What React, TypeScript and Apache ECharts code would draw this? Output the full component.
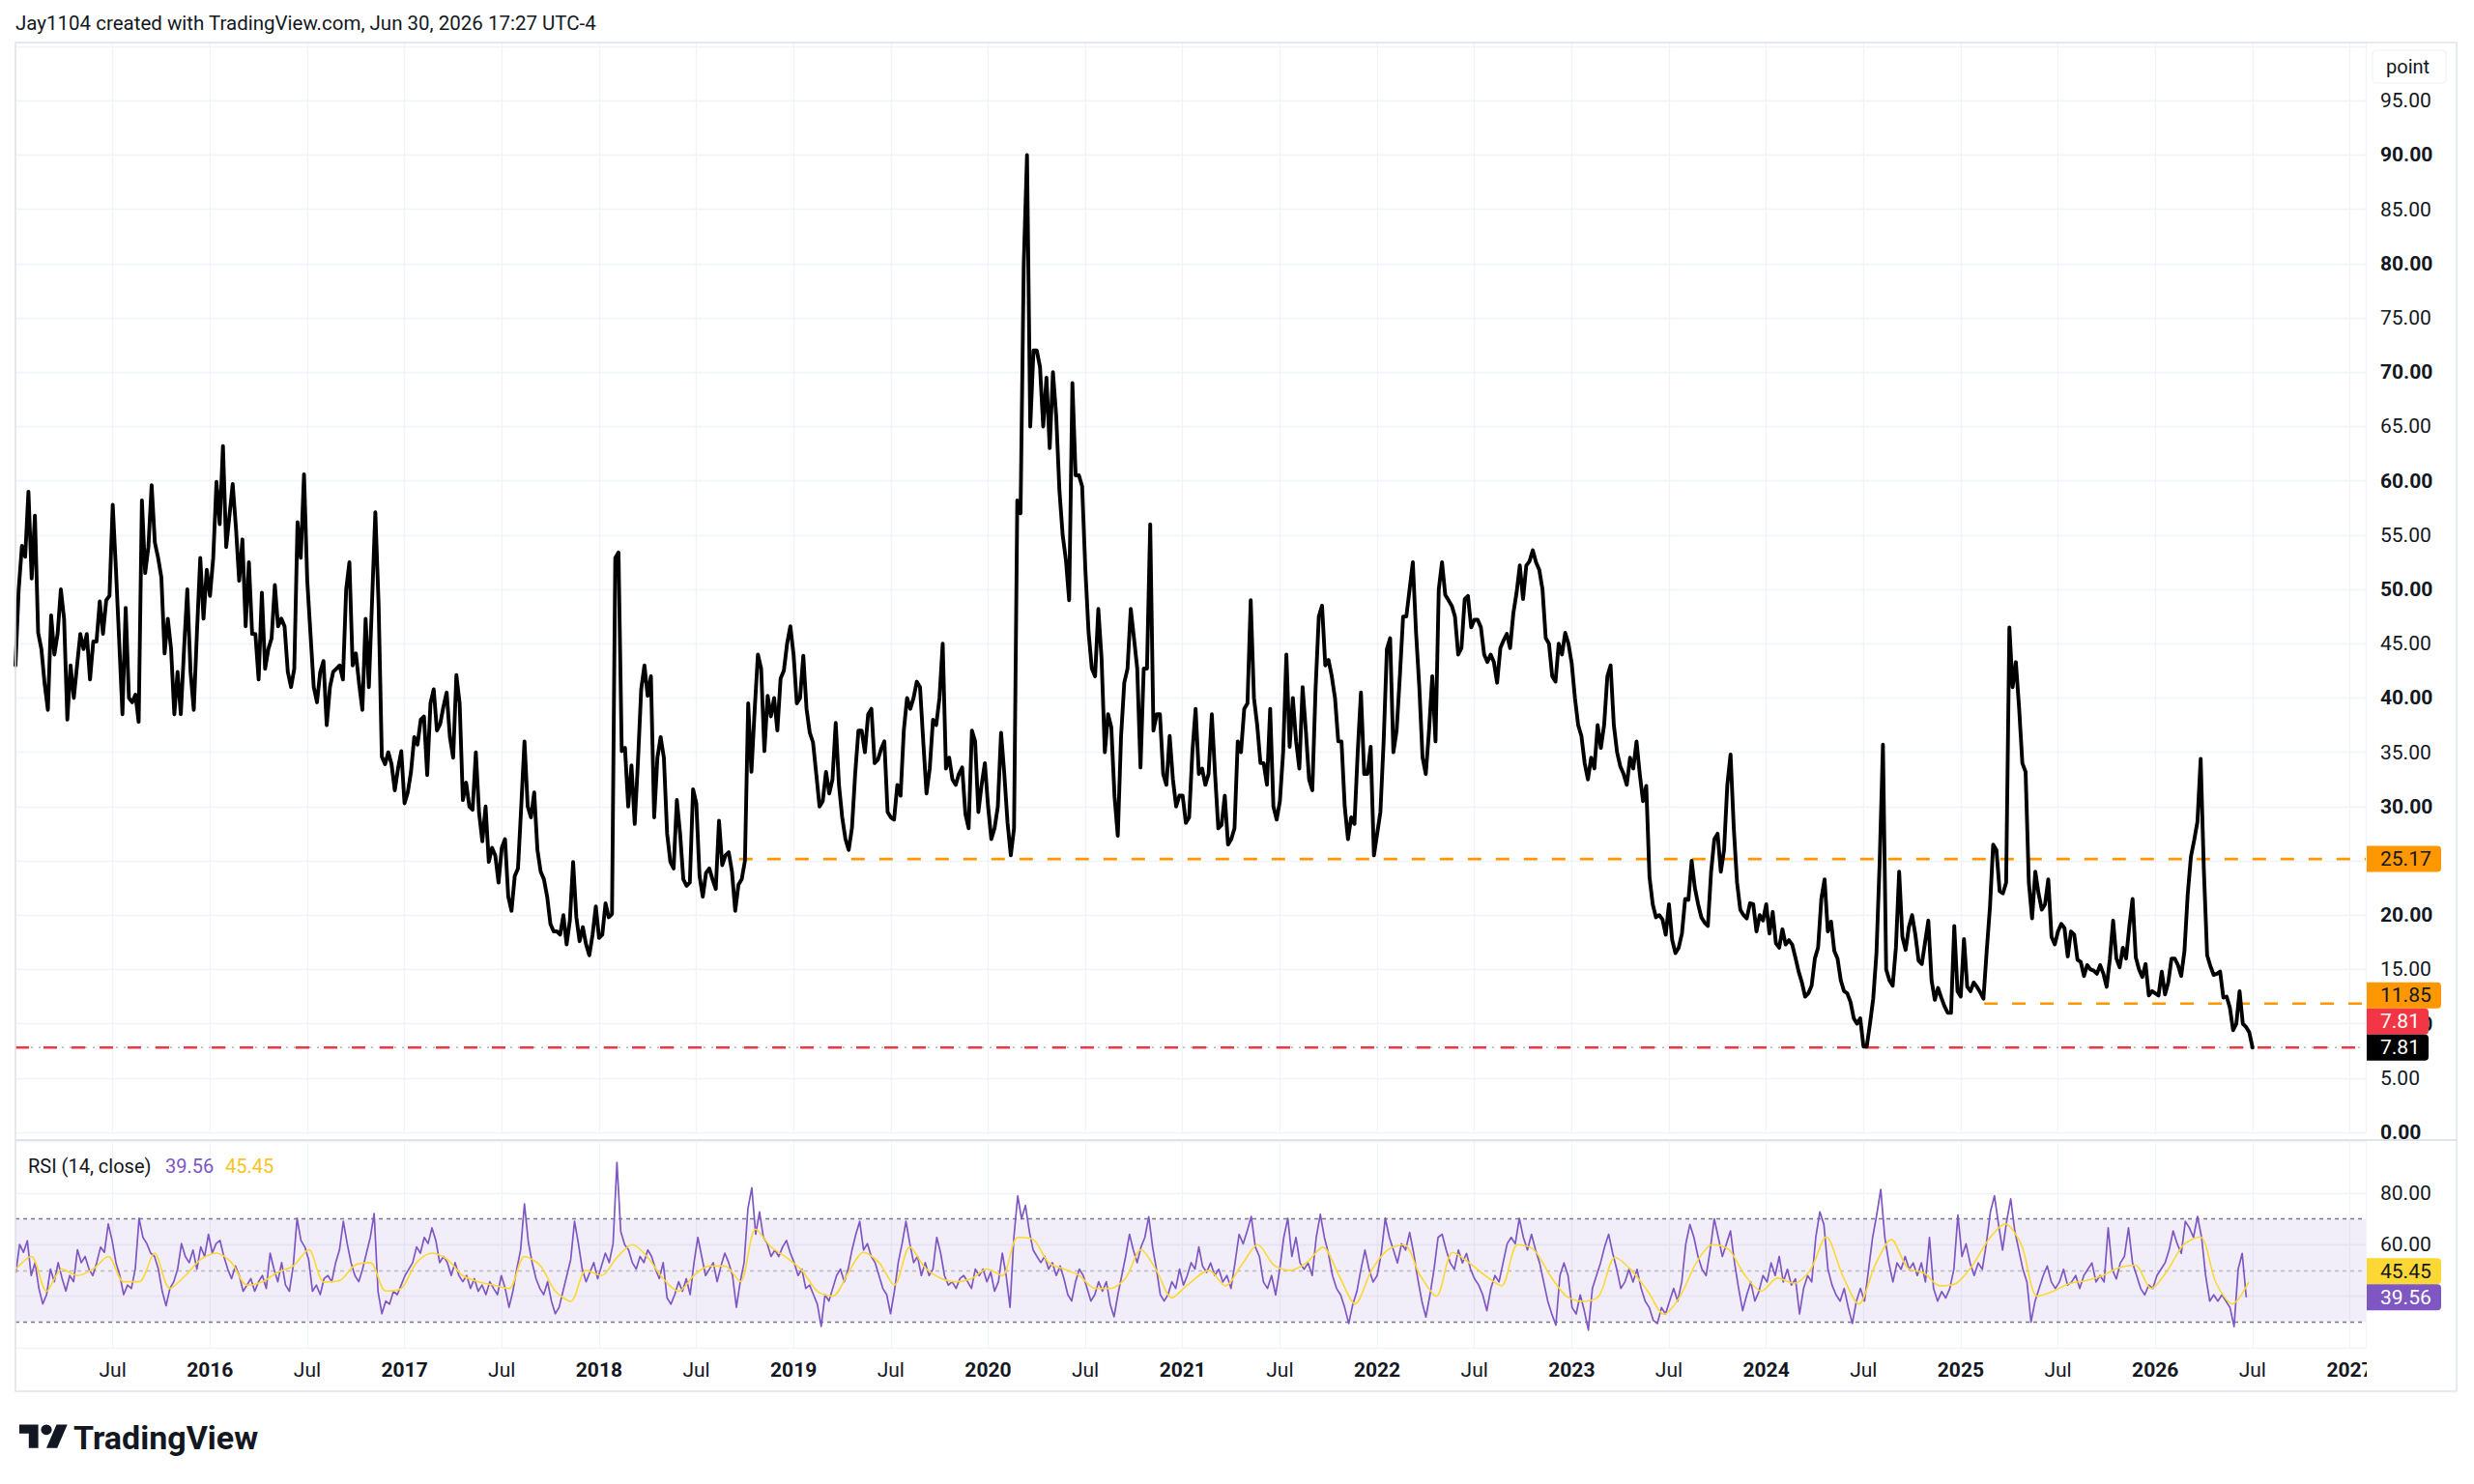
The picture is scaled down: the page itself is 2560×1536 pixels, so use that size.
import React, { useEffect, useRef } from "react";
import * as echarts from "echarts";

const TITLE = "Jay1104 created with TradingView.com, Jun 30, 2026 17:27 UTC-4";
const FONT = 'Roboto, "Noto Sans", sans-serif';
const TEXT = "#131722";

const X_MIN = 2015;
const X_MAX = 2027.082;

// price, one value every 1/60 year from 2015.0
const PRICE_START = 2015.0;
const PRICE_STEP = 1 / 60;
const PRICE = [
  43, 50, 54, 53, 59, 51, 56.8, 46, 44.5, 41.3,
  38.9, 47.6, 44, 45.9, 50, 47.3, 38, 43, 40, 43,
  45.9, 44.5, 45.9, 41.7, 45.2, 45.2, 48.9, 45.9, 49, 49.4,
  57.8, 51.8, 45.2, 38.5, 48.3, 40, 39.6, 40.3, 37.8, 58.2,
  51.5, 53.9, 59.6, 54.3, 52.9, 51.1, 44.1, 47.3, 44.5, 38.5,
  42.4, 38.5, 44.5, 50, 42.4, 38.9, 46.2, 52.9, 47.3, 51.8,
  49.4, 52.9, 59.9, 56, 63.2, 53.9, 56.8, 59.7, 55.7, 50.8,
  54.6, 46.6, 52.5, 45.9, 45.9, 41.7, 49.7, 42.7, 44.5, 45.5,
  50.4, 46.6, 47.3, 46.6, 42.4, 41, 42.7, 56.2, 52.9, 60.6,
  50.8, 45.9, 41, 39.6, 42.4, 43.4, 37.5, 41, 42.4, 42.7,
  43, 41.7, 50, 52.5, 43, 44.1, 41.3, 38.9, 47.3, 41,
  49, 57.1, 48.7, 34.6, 33.9, 35, 33.9, 31.5, 33.5, 35.1,
  30.3, 31.3, 33.2, 36.4, 35.7, 38, 38.3, 32.9, 39.5, 40.8,
  37, 37.6, 39.2, 40.5, 36.4, 34.5, 42.1, 39.5, 30.6, 32.2,
  30, 29.7, 35, 29.4, 26.8, 30, 24.9, 26.2, 25.5, 23,
  26.2, 27, 21.7, 20.4, 23.6, 24.3, 30, 36, 30, 29,
  31.3, 26, 24, 23.3, 21.7, 19.2, 18.5, 18.5, 18.2, 20,
  17.3, 19.5, 24.9, 19.8, 17.6, 18.9, 17.3, 16.3, 18.2, 20.8,
  17.9, 18.2, 21.1, 19.8, 20.1, 52.9, 53.4, 35.1, 35.4, 30,
  33.8, 28.4, 34.1, 40.8, 43, 40.2, 42, 29, 34.5, 36.4,
  34.5, 27.5, 24.9, 24.3, 30.6, 27.5, 23.3, 22.7, 23, 31.6,
  30.3, 23.6, 21.7, 23.9, 24.3, 23.3, 22.4, 28.7, 24.6, 25.5,
  25.8, 24, 20.4, 22.8, 23.3, 25, 39.5, 33.2, 38.9, 44,
  42.7, 35.1, 40.2, 38.3, 40, 37, 41.8, 42.5, 45, 46.6,
  44, 39.5, 40, 43.9, 39, 36.8, 35.9, 33, 30, 30.5,
  33.2, 31.2, 32.5, 37.7, 32, 29, 27, 26, 28, 33,
  37, 37, 35, 38.5, 39, 34, 34.3, 35.3, 36, 29.5,
  29, 28.8, 32, 31, 37, 40, 39, 40, 41.5, 41,
  36, 31.2, 33.5, 38, 37.5, 40, 45, 33.5, 34.5, 32.5,
  32, 33, 33.6, 29.3, 28, 37, 36, 29.5, 32, 34,
  30, 27, 28, 30, 36.8, 33, 28.5, 25.5, 28, 58.2,
  57, 80, 90, 65, 72, 72, 70.5, 65, 69.5, 63,
  70, 66, 59.1, 55, 52.7, 49, 69, 60.5, 60.5, 59.5,
  51.8, 46, 42.7, 42, 48.2, 43.6, 35, 38.5, 37.3, 30.9,
  27.3, 36.4, 41.4, 42.7, 48.2, 45.5, 42.7, 33.6, 42.7, 42.7,
  56, 37, 38.5, 38.5, 33, 32, 36.5, 32.5, 30, 31,
  31, 28.5, 29, 35, 39, 33, 33.5, 32, 33, 38.5,
  33, 28, 28.3, 31, 26.5, 27, 28, 36, 35, 39,
  39.5, 49, 40, 37.5, 34, 34, 32, 39, 30, 28.8,
  30.5, 35, 44, 35.5, 40, 36, 33.5, 41, 37, 32.5,
  31.5, 40.8, 47.5, 48.5, 43, 43.5, 42, 40, 36, 36,
  30, 27, 29, 28.4, 35, 40.5, 33, 33, 35.5, 25.5,
  27.5, 29.5, 36, 44.5, 45.5, 35, 37, 42, 47.5, 47.5,
  50, 52.5, 46, 41, 34.5, 33, 37, 42, 36, 50,
  52.5, 49.5, 49, 48.5, 47.5, 44, 44.6, 49.1, 49.4, 46.5,
  47.2, 47.2, 46.5, 44, 43.3, 44, 43.3, 41.4, 44.6, 45.3,
  45.9, 44.6, 47.8, 49.7, 52.2, 49.1, 52.2, 52.6, 53.6, 52.5,
  51.8, 50, 45.5, 45, 42, 41.5, 45, 44, 46, 45,
  43.2, 40, 37.5, 36.5, 34, 32.5, 34.5, 33.5, 37.5, 35.4,
  37.5, 42, 43, 37.5, 35, 33.7, 33, 32, 34.5, 33.5,
  36, 33, 30.5, 31.9, 23.5, 21, 19.8, 20, 19.6, 18.2,
  21, 17.7, 16.5, 17, 18.3, 21.5, 21.4, 25, 22.5, 21,
  19.8, 19.3, 19, 24, 27, 27.5, 24, 26, 32, 34.8,
  28, 23, 20.5, 20, 19.7, 21.1, 21, 18.5, 20, 19.5,
  21, 18.3, 20.3, 17.4, 17, 18.7, 17.3, 17.7, 17.3, 16.1,
  14.8, 13.8, 12.5, 12.8, 13.5, 16, 17, 21.5, 23.3, 18.5,
  19.4, 16.7, 16, 14, 13, 12.8, 12, 10.5, 10, 10.5,
  7.9, 7.9, 10, 12.3, 16.5, 25, 35.7, 15, 14, 13.5,
  17, 24, 18, 16.8, 18.9, 20, 18.2, 15.8, 15.5, 17.5,
  19.5, 14, 12.2, 13.3, 12.4, 11.6, 11, 11, 19, 13,
  12.5, 17.8, 13.4, 13, 13.8, 13.4, 12.9, 12.3, 16.7, 20.7,
  26.5, 26, 22.2, 22, 23, 46.5, 41, 43.3, 39.1, 34,
  33.2, 23, 19.7, 24, 22, 20.5, 21, 23.3, 18, 17.3,
  18.5, 19.2, 18.8, 16.2, 18.5, 18.2, 15.9, 15.7, 14.4, 15.4,
  15, 14.9, 14.6, 15.4, 14.6, 13.4, 16, 19.5, 16, 15.2,
  17, 16, 19, 21.5, 16.1, 15, 14.3, 15.5, 12.6, 13,
  12.8, 12.6, 14.8, 12.7, 13.8, 16, 16, 15.4, 14.4, 16.7,
  21.9, 25.4, 26.9, 28.6, 34.4, 24, 16.3, 15.3, 14.5, 14.6,
  14.8, 12.4, 12.5, 11.5, 9.4, 10, 13, 10, 9.7, 9.2,
  7.81,
];

// horizontal levels
const SUPPORT_LEVEL = 25.17;
const SUPPORT_FROM = 2018.72;
const MID_LEVEL = 11.85;
const MID_FROM = 2025.12;
const ALERT_LEVEL = 7.81;
const LAST_PRICE = 7.81;

// RSI (14, close), part A
const RSI_A_START = 2015.0016;
const RSI_A_STEP = 0.01981;
const RSI_A = [
  49, 60, 57, 61.5, 48, 53, 43, 37, 40.6, 50.5,
  45.6, 53, 47, 42, 48, 45.6, 58, 53, 55.4, 50.5,
  48, 53, 59, 57, 68, 61.6, 53, 48, 40.6, 44.3,
  43, 50.5, 70.2, 62.8, 60.4, 56.7, 55.4, 50.5, 41.9, 36.3,
  43, 45.6, 50.5, 60.4, 55.4, 53, 57.9, 50.5, 59.1, 55.4,
  64, 56.7, 60.4, 61.6, 55.4, 50.5, 46.8, 51.7, 48, 41.9,
  44.3, 46.8, 41.9, 45.6, 48, 43, 56.7, 50.5, 45.6, 53,
  44.3, 41.9, 51.7, 70.2, 61.6, 59.1, 54.2, 41.9, 44.3, 40.6,
  46.8, 48, 45.6, 53, 57.9, 69, 60.4, 53, 48, 45.6,
  50.5, 56.7, 62.8, 72, 41.9, 33.2, 38.1, 36.9, 41.9, 40.6,
  44.3, 48, 50.5, 53, 59.1, 56.7, 62.8, 60.4, 66.5, 61.6,
  53, 55.4, 53, 48, 53, 48, 45.6, 48, 43, 46.8,
  41.9, 44.3, 40.6, 45.6, 43, 40.6, 48, 43, 35.7, 41.9,
  50.5, 57.9, 75.8, 61, 53, 46.8, 43, 40.6, 45.6, 38.1,
  33.2, 35.7, 41.9, 48, 54.2, 69, 60.4, 50.5, 45.6, 49.3,
  53, 46.8, 51.7, 56.7, 53, 60.4, 91.9, 65, 60, 58,
  53, 50.5, 55.4, 53, 57.9, 55.4, 50.5, 46.8, 53, 39.4,
  36.9, 40.6, 45.6, 41.9, 46.8, 40.6, 53, 62.8, 55.4, 48,
  50.5, 53, 45.6, 51.7, 56.7, 53, 48, 35.7, 45.6, 53,
  74, 82, 64, 72.7, 62.8, 60.4, 55.4, 57.9, 55.4, 59.1,
  61.6, 56.7, 53, 48, 50.5, 43, 44.3, 40.6, 36.9, 28.3,
  40.6, 38.1, 43, 48, 50.5, 45.6, 50.5, 57.9, 64, 69,
  57.9, 60.4, 55.4, 53, 48, 43, 40.6, 33.2, 41.9, 53,
  60.4, 69, 60.4, 53, 55.4, 48, 53, 48, 50.5, 62.8,
  56.7, 48, 44.3, 45.6, 43, 46.8, 48, 45.6, 43, 50.5,
  48, 50.5, 45.6, 49.3, 41.9, 45.6, 56.7, 48, 35.7, 62.8,
  78.9, 70, 75.2, 65.3, 57.9, 55.4, 53, 55.4, 50.5, 53,
  48, 51.7, 46.8, 40.6, 38.1, 45.6, 50.5, 48, 43, 38.1,
  40.6, 45.6, 41.9, 45.6, 36.9, 32, 40.6, 48, 55.4, 64,
  57.9, 53, 59.1, 62.8, 70.8, 59.1, 50.5, 40.6, 38.1, 40.6,
  45.6, 43, 50.5, 44.3, 48, 53, 50.5, 59.1,
];

// RSI part B
const RSI_B_START = 2021.1023;
const RSI_B_STEP = 0.020877;
const RSI_B = [
  51.7, 49.2, 52.9, 48, 50.4, 45.5, 48, 43, 52.9, 64,
  60.3, 65.3, 70.9, 59.1, 55.4, 45.5, 43, 48, 40.5, 50.4,
  62.8, 70.2, 55.4, 62.8, 52.9, 50.4, 52.9, 48, 62.8, 71.7,
  62.8, 56.6, 48, 43, 40.5, 35.6, 29.4, 36.8, 41.8, 50.4,
  57.9, 50.4, 45.5, 48, 56.6, 70.2, 62.8, 57.9, 52.9, 60.3,
  57.9, 64.7, 56.6, 46.7, 38.1, 31.9, 40.5, 50.4, 62.8, 64,
  57.9, 52.9, 50.4, 57.9, 52.9, 56.6, 50.4, 46.7, 44.3, 40.5,
  34.4, 43, 48, 45.5, 52.9, 60.3, 62.8, 60.3, 70.2, 62.8,
  57.9, 64, 57.9, 52.9, 45.5, 38.1, 33.1, 28.8, 48, 52.9,
  48, 35.6, 33.1, 40.5, 34.4, 26.9, 43, 48, 52.9, 59.1,
  64, 56.6, 50.4, 43, 45.5, 50.4, 45.5, 50.4, 43, 38.1,
  35.6, 30.6, 29.4, 35.6, 33.1, 38.1, 43, 38.1, 45.5, 60.3,
  67.8, 62.8, 55.4, 50.4, 48, 57.9, 70, 62.8, 55.4, 60.3,
  65.3, 52.9, 43, 34.4, 40.5, 45.5, 38.1, 41.8, 48, 45.5,
  52.9, 48, 55.4, 45.5, 50.4, 44.3, 46.7, 33.1, 43, 48,
  45.5, 62.8, 72.7, 67.8, 50.4, 44.3, 40.5, 38.1, 43, 35.6,
  29.4, 38.1, 43, 38.1, 50.4, 62.8, 71.5, 81.4, 62.8, 52.9,
  45.5, 52.9, 50.4, 55.4, 50.4, 52.9, 48, 52.9, 45.5, 62.8,
  43, 38.1, 41.8, 39.3, 43, 50.4, 71.5, 55.4, 60.3, 52.9,
  48, 52.9, 50.4, 60.3, 72.7, 78.9, 67.8, 57.9, 69, 77.7,
  65.3, 57.9, 50.4, 45.5, 30, 38.1, 43, 48, 51.7, 45.5,
  43, 45.5, 50.4, 44.3, 45.5, 48, 43, 48, 50.4, 52.9,
  45.5, 48, 45.5, 66.5, 50.4, 46.7, 52.9, 55.4, 66.5, 52.9,
  48, 43, 40.5, 44.3, 43, 48, 50.4, 52.9, 57.9, 65.3,
  60.3, 56.6, 69, 66.5, 62.8, 70.9, 62.8, 48, 38.1, 40.5,
  38.1, 40.5, 38.1, 35.6, 28.2, 50.4, 56.6, 39.56,
];

// RSI-based MA
const MA_A_START = 2015.0016;
const MA_A_STEP = 0.07924;
const MA_A = [
  50.5, 55.4, 41.9, 50.5, 48, 50.5, 55.4, 45.6, 45.6, 56.7,
  43, 48, 54.2, 56.7, 53, 44.3, 45.6, 49.3, 51.7, 58,
  45.5, 46, 52, 53, 42, 43, 53, 56.7, 54.2, 48,
  45.6, 44.3, 43, 55.4, 52, 42, 38, 50, 48, 55,
  60, 55, 46.8, 41.9, 48, 51.7, 51.7, 45.6, 66, 59.1,
  55, 50, 41.9, 40, 49, 57, 53, 44.3, 59.1, 51,
  47, 45.6, 46.8, 50.5, 48, 62.8, 62, 53, 50.5, 48,
  43, 43, 47, 58, 50, 39.4, 44.3,
];
const MA_B_START = 2021.1357;
const MA_B_STEP = 0.08351;
const MA_B = [
  50, 44, 52, 60, 52, 50, 53, 59, 48, 37,
  50, 58, 60, 48, 40, 57, 53, 48, 44, 60,
  58, 48, 40, 38, 40, 55, 50, 42, 33, 40,
  53, 60, 58, 48, 42, 47, 45, 50, 63, 48,
  37, 52, 62, 51, 49, 44, 45, 52, 62, 68,
  60, 40, 42, 45, 46, 48, 51, 52, 43, 50,
  60, 63, 45, 37, 45.45,
];
const LAST_RSI = 39.56;
const LAST_MA = 45.45;

const RSI_LEVELS = [70, 50, 30];

const LOGO_PATH =
  "M14 22H7V11H0V4h14v18zM28 22h-8l7.5-18h8L28 22zM24 8a4 4 0 1 1-8 0a4 4 0 1 1 8 0z";

function toPairs(start: number, step: number, arr: number[]) {
  return arr.map((v, i) => [start + i * step, v]);
}

export default function App() {
  const ref = useRef<HTMLDivElement>(null);

  useEffect(() => {
    if (!ref.current) return;
    document.body.style.margin = "0";
    echarts.graphic.registerShape("tvlogo", echarts.graphic.extendPath(LOGO_PATH, {}));
    const chart = echarts.init(ref.current, null, { renderer: "svg", width: 2560, height: 1536 });

    const priceData = toPairs(PRICE_START, PRICE_STEP, PRICE);
    const rsiData = [...toPairs(RSI_A_START, RSI_A_STEP, RSI_A), ...toPairs(RSI_B_START, RSI_B_STEP, RSI_B)];
    const maData = [...toPairs(MA_A_START, MA_A_STEP, MA_A), ...toPairs(MA_B_START, MA_B_STEP, MA_B)];

    const gridLine = { show: true, lineStyle: { color: "#f0f3fa", width: 1.3 } };
    const labelBase = { color: TEXT, fontSize: 21, fontFamily: FONT };

    chart.setOption({
      animation: false,
      backgroundColor: "#ffffff",
      grid: [
        { left: 16, top: 44, width: 2432, height: 1128 },
        { left: 16, top: 1180.6, width: 2432, height: 214.4 },
      ],
      xAxis: [
        {
          type: "value", gridIndex: 0, min: X_MIN, max: X_MAX, interval: 0.5,
          axisLine: { show: false }, axisTick: { show: false }, axisLabel: { show: false },
          splitLine: gridLine,
        },
        {
          type: "value", gridIndex: 1, min: X_MIN, max: X_MAX, interval: 0.5,
          axisLine: { show: false }, axisTick: { show: false },
          splitLine: gridLine,
          axisLabel: {
            ...labelBase, margin: 12, showMinLabel: false, showMaxLabel: false,
            formatter: (v: number) => {
              const r = Math.round(v * 2) / 2;
              if (Math.abs(r - Math.round(r)) < 1e-6) return "{b|" + Math.round(r) + "}";
              return "Jul";
            },
            rich: { b: { ...labelBase, fontWeight: 700 } },
          },
        },
      ],
      yAxis: [
        {
          type: "value", gridIndex: 0, position: "right", min: 0, max: 100.36, interval: 5,
          axisLine: { show: false }, axisTick: { show: false },
          splitLine: gridLine,
          axisLabel: {
            ...labelBase, align: "left", margin: 15,
            formatter: (v: number) => {
              if (v > 95.5) return "";
              const s = v.toFixed(2);
              return Math.round(v) % 10 === 0 ? "{b|" + s + "}" : s;
            },
            rich: { b: { ...labelBase, fontWeight: 700 } },
          },
        },
        {
          type: "value", gridIndex: 1, position: "right", min: 20, max: 100.3, interval: 20,
          axisLine: { show: false }, axisTick: { show: false },
          splitLine: gridLine,
          axisLabel: {
            ...labelBase, align: "left", margin: 15,
            formatter: (v: number) => (Math.abs(v - 60) < 1e-6 || Math.abs(v - 80) < 1e-6 ? v.toFixed(2) : ""),
          },
        },
      ],
      series: [
        {
          type: "line", xAxisIndex: 0, yAxisIndex: 0, z: 1,
          data: [[X_MIN, LAST_PRICE], [X_MAX, LAST_PRICE]],
          showSymbol: false, silent: true,
          lineStyle: { color: "#b2b5be", width: 1.4, type: [2, 6] },
        },
        {
          type: "line", xAxisIndex: 0, yAxisIndex: 0, z: 2,
          data: [[X_MIN, ALERT_LEVEL], [X_MAX, ALERT_LEVEL]],
          showSymbol: false, silent: true,
          lineStyle: { color: "#f23645", width: 2.4, type: [14, 15] },
        },
        {
          type: "line", xAxisIndex: 0, yAxisIndex: 0, z: 2,
          data: [[SUPPORT_FROM, SUPPORT_LEVEL], [X_MAX, SUPPORT_LEVEL]],
          showSymbol: false, silent: true,
          lineStyle: { color: "#ff9800", width: 2.6, type: [14, 15] },
        },
        {
          type: "line", xAxisIndex: 0, yAxisIndex: 0, z: 2,
          data: [[MID_FROM, MID_LEVEL], [X_MAX, MID_LEVEL]],
          showSymbol: false, silent: true,
          lineStyle: { color: "#ff9800", width: 2.6, type: [14, 15] },
        },
        {
          type: "line", xAxisIndex: 0, yAxisIndex: 0, z: 5,
          data: priceData, showSymbol: false, silent: true,
          lineStyle: { color: "#000000", width: 3.9, join: "round", cap: "round" },
        },
        {
          type: "line", xAxisIndex: 1, yAxisIndex: 1, z: 5,
          data: rsiData, showSymbol: false, silent: true,
          lineStyle: { color: "#7e57c2", width: 1.7, join: "round" },
          markArea: {
            silent: true,
            itemStyle: { color: "rgba(126,87,194,0.1)" },
            data: [[{ yAxis: RSI_LEVELS[2] }, { yAxis: RSI_LEVELS[0] }]],
          },
          markLine: {
            silent: true, symbol: ["none", "none"], label: { show: false },
            data: [
              { yAxis: RSI_LEVELS[0], lineStyle: { color: "#787b86", width: 1.3, type: [4, 4] } },
              { yAxis: RSI_LEVELS[1], lineStyle: { color: "rgba(120,123,134,0.45)", width: 1.3, type: [4, 4] } },
              { yAxis: RSI_LEVELS[2], lineStyle: { color: "#787b86", width: 1.3, type: [4, 4] } },
            ],
          },
        },
        {
          type: "line", xAxisIndex: 1, yAxisIndex: 1, z: 6,
          data: maData, showSymbol: false, silent: true, smooth: 0.3,
          lineStyle: { color: "#fdd835", width: 1.6 },
        },
      ],
    });

    const py = (v: number) => chart.convertToPixel({ yAxisIndex: 0 } as any, v) as number;
    const ry = (v: number) => chart.convertToPixel({ yAxisIndex: 1 } as any, v) as number;
    const TAG_H = 27;
    const TAG_X = 2449;

    const tag = (yc: number, w: number, bg: string, fg: string, text: string) => [
      {
        type: "rect", z: 100,
        shape: { x: TAG_X, y: yc - TAG_H / 2, width: w, height: TAG_H, r: [0, 4, 4, 0] },
        style: { fill: bg },
      },
      {
        type: "text", z: 101,
        style: {
          text, x: TAG_X + 14, y: yc, fill: fg, fontSize: 21, fontFamily: FONT,
          textVerticalAlign: "middle", verticalAlign: "middle",
        },
      },
    ];

    const yLast = py(LAST_PRICE);
    const yAlert = yLast - TAG_H;
    const yMid = yAlert - TAG_H;
    const ySupport = py(SUPPORT_LEVEL);
    const yRsi = ry(LAST_RSI);
    const yMa = Math.min(ry(LAST_MA), yRsi - TAG_H);

    const txt = (text: string, x: number, y: number, fill: string, size: number, weight: any = 400) => ({
      type: "text", z: 100,
      style: {
        text, x, y, fill, fontSize: size, fontFamily: FONT, fontWeight: weight,
        textVerticalAlign: "middle", verticalAlign: "middle",
      },
    });

    chart.setOption({
      graphic: {
        elements: [
          {
            type: "rect", z: 90,
            shape: { x: 16, y: 44, width: 2526, height: 1396 },
            style: { fill: "none", stroke: "#e0e3eb", lineWidth: 1.5 },
          },
          {
            type: "line", z: 90,
            shape: { x1: 16, y1: 1180, x2: 2542, y2: 1180 },
            style: { stroke: "#e0e3eb", lineWidth: 2 },
          },
          {
            type: "rect", z: 95,
            shape: { x: 2449, y: 1398, width: 92, height: 40 },
            style: { fill: "#ffffff" },
          },
          txt(TITLE, 16, 24, TEXT, 20.5),
          {
            type: "rect", z: 99,
            shape: { x: 2455, y: 52, width: 76, height: 34, r: 4 },
            style: { fill: "#ffffff", stroke: "#eef0f3", lineWidth: 1.2 },
          },
          txt("point", 2469, 69, TEXT, 20),
          txt("RSI (14, close)", 29, 1207, TEXT, 20),
          txt(LAST_RSI.toFixed(2), 171, 1207, "#7e57c2", 20),
          txt(LAST_MA.toFixed(2), 233, 1207, "#f7c325", 20),
          ...tag(ySupport, 77, "#ff9800", TEXT, SUPPORT_LEVEL.toFixed(2)),
          ...tag(yMid, 77, "#ff9800", TEXT, MID_LEVEL.toFixed(2)),
          ...tag(yAlert, 64, "#f23645", "#ffffff", ALERT_LEVEL.toFixed(2)),
          ...tag(yLast, 64, "#000000", "#ffffff", LAST_PRICE.toFixed(2)),
          ...tag(yMa, 77, "#fdd835", TEXT, LAST_MA.toFixed(2)),
          ...tag(yRsi, 77, "#7e57c2", "#ffffff", LAST_RSI.toFixed(2)),
          {
            type: "tvlogo", z: 100, x: 20, y: 1469, scaleX: 1.4, scaleY: 1.35,
            style: { fill: TEXT },
          },
          txt("TradingView", 76, 1488, TEXT, 34, 700),
        ],
      },
    });

    return () => chart.dispose();
  }, []);

  return (
    <div
      ref={ref}
      style={{ position: "absolute", left: 0, top: 0, width: 2560, height: 1536, background: "#ffffff" }}
    />
  );
}
